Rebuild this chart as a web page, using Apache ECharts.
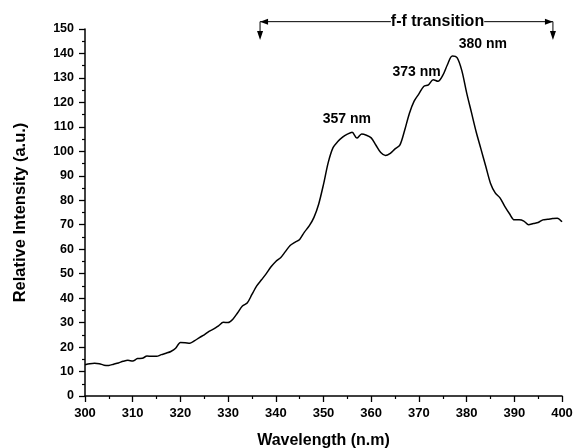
<!DOCTYPE html>
<html><head><meta charset="utf-8">
<script src="https://cdn.jsdelivr.net/npm/echarts@6/dist/echarts.min.js"></script>
<style>html,body{margin:0;padding:0;background:#fff}#c{width:574px;height:448px}</style>
</head><body><div id="c"></div>
<script>
const wavelengths = [300,301,302,303,304,305,306,307,308,309,310,311,312,313,314,315,316,317,318,319,320,321,322,323,324,325,326,327,328,329,330,331,332,333,334,335,336,337,338,339,340,341,342,343,344,345,346,347,348,349,350,351,352,353,354,355,356,357,358,359,360,361,362,363,364,365,366,367,368,369,370,371,372,373,374,375,376,377,378,379,380,381,382,383,384,385,386,387,388,389,390,391,392,393,394,395,396,397,398,399,400];
const intensity = [12.8,13.2,13.4,13.2,12.6,12.5,13.0,13.5,14.2,14.6,14.3,15.3,15.4,16.3,16.2,16.2,16.9,17.5,18.2,19.5,21.9,21.8,21.6,22.6,23.9,25.0,26.4,27.4,28.7,30.1,30.0,31.4,34.0,36.8,38.0,41.5,45.0,47.5,50.0,52.8,55.0,56.5,59.0,61.5,62.8,64.0,67.0,69.5,73.0,78.5,86.5,95.5,101.5,104.0,105.8,107.0,107.8,105.4,107.1,106.6,105.5,102.5,99.5,98.3,99.2,101.0,102.5,108.5,115.5,120.5,123.5,126.5,127.2,129.3,128.6,131.0,135.5,139.0,138.3,133.0,124.0,116.0,108.0,101.0,94.0,87.0,83.0,81.0,77.5,74.5,72.0,72.0,71.5,70.0,70.5,70.9,72.0,72.2,72.5,72.7,71.2];
const peakLabels = ['357 nm','373 nm','380 nm'];
const peakLabelAt = [[354.9,113.3],[369.5,132.5],[383.4,143.8]];
const transitionText = 'f-f transition';
const transitionRange = [336.7, 398.1];
const transitionLevel = 153.0;
const transitionDrop = 145.5;
const transitionTextAt = 373.9;

const FONT = '"Liberation Sans", Arial, sans-serif';
const chart = echarts.init(document.getElementById('c'), null, {renderer:'canvas'});
const data = wavelengths.map((w,i)=>[w,intensity[i]]);
chart.setOption({
  animation:false,
  grid:{left:85,right:12,top:29,bottom:52,containLabel:false,outerBoundsMode:'none'},
  xAxis:{type:'value',min:300,max:400,interval:10,
    name:'Wavelength (n.m)',nameLocation:'middle',nameGap:37,
    nameTextStyle:{fontFamily:FONT,fontWeight:'bold',fontSize:16,color:'#000'},
    axisLine:{lineStyle:{color:'#000',width:1.5}},
    axisTick:{length:6,lineStyle:{color:'#000',width:1.3}},
    minorTick:{show:true,splitNumber:2,length:3,lineStyle:{color:'#000',width:1.2}},
    axisLabel:{fontFamily:FONT,fontWeight:'bold',fontSize:13,color:'#000',margin:11},
    splitLine:{show:false}},
  yAxis:{type:'value',min:0,max:150,interval:10,
    name:'Relative Intensity (a.u.)',nameLocation:'middle',nameGap:56,
    nameTextStyle:{fontFamily:FONT,fontWeight:'bold',fontSize:16.5,color:'#000'},
    axisLine:{show:true,lineStyle:{color:'#000',width:1.5}},
    axisTick:{show:true,length:6,lineStyle:{color:'#000',width:1.3}},
    minorTick:{show:true,splitNumber:2,length:3,lineStyle:{color:'#000',width:1.2}},
    axisLabel:{fontFamily:FONT,fontWeight:'bold',fontSize:12.5,color:'#000',margin:11},
    splitLine:{show:false}},
  series:[{type:'line',data:data,showSymbol:false,smooth:0.3,
    lineStyle:{color:'#000',width:1.5}}]
});
const P = (x,y)=>chart.convertToPixel({xAxisIndex:0,yAxisIndex:0},[x,y]);
const g = [];
const L = P(transitionRange[0],transitionLevel), R = P(transitionRange[1],transitionLevel);
const Ld = P(transitionRange[0],transitionDrop), Rd = P(transitionRange[1],transitionDrop);
const T = P(transitionTextAt,transitionLevel);
const ls = {stroke:'#000',lineWidth:1,fill:null};
g.push({type:'polyline',shape:{points:[[L[0],Ld[1]-7],[L[0],L[1]],[R[0],R[1]],[R[0],Rd[1]-7]]},style:ls,z:10});
g.push({type:'polygon',shape:{points:[[L[0],L[1]],[L[0]+8,L[1]-3],[L[0]+8,L[1]+3]]},style:{fill:'#000'},z:10});
g.push({type:'polygon',shape:{points:[[R[0],R[1]],[R[0]-8,R[1]-3],[R[0]-8,R[1]+3]]},style:{fill:'#000'},z:10});
g.push({type:'polygon',shape:{points:[[L[0],Ld[1]],[L[0]-3,Ld[1]-9],[L[0]+3,Ld[1]-9]]},style:{fill:'#000'},z:10});
g.push({type:'polygon',shape:{points:[[R[0],Rd[1]],[R[0]-3,Rd[1]-9],[R[0]+3,Rd[1]-9]]},style:{fill:'#000'},z:10});
g.push({type:'text',x:T[0],y:T[1],style:{text:transitionText,fill:'#000',backgroundColor:'#fff',padding:[0,0],font:'bold 16px '+FONT,align:'center',verticalAlign:'middle'},z:11});
peakLabels.forEach((t,i)=>{const p=P(peakLabelAt[i][0],peakLabelAt[i][1]);
  g.push({type:'text',x:p[0],y:p[1],style:{text:t,fill:'#000',font:'bold 14px '+FONT,align:'center',verticalAlign:'middle'},z:11});});
chart.setOption({graphic:g});
</script></body></html>
